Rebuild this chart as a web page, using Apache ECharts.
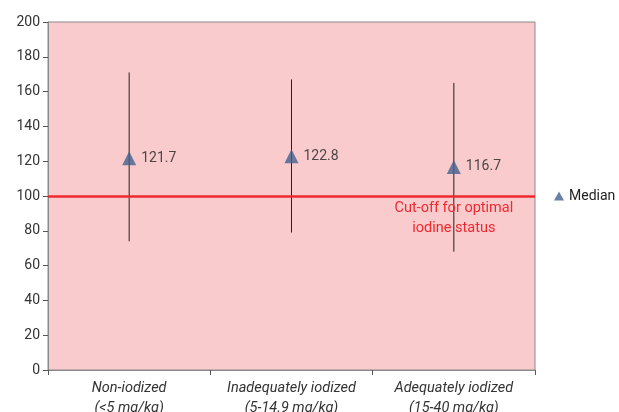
<!DOCTYPE html>
<html><head><meta charset="utf-8">
<script src="https://cdn.jsdelivr.net/npm/echarts@6/dist/echarts.min.js"></script>
<style>html,body{margin:0;padding:0;background:#fff}#c{width:619px;height:412px}</style>
</head><body><div id="c"></div>
<script>
const categories = ['Non-iodized\n(<5 mg/kg)', 'Inadequately iodized\n(5-14.9 mg/kg)', 'Adequately iodized\n(15-40 mg/kg)'];
const medians = [121.7, 122.8, 116.7];
const lows = [74, 79, 68];
const highs = [171, 167, 165];
const yTicks = {min: 0, max: 200, interval: 20};
const cutoff = 100;
const cutoffText = 'Cut-off for optimal\niodine status';

const chart = echarts.init(document.getElementById('c'));
const font = 'Roboto, "Noto Sans", sans-serif';
chart.setOption({
  animation: false,
  textStyle: {fontFamily: font},
  grid: {left: 48, right: 84, top: 22, bottom: 42, outerBoundsMode: 'none', containLabel: false, show: true, backgroundColor: '#f9cbcd', borderColor: '#8a8a8a', borderWidth: 1},
  legend: {
    data: [{name: 'Median', icon: 'triangle'}],
    left: 554, top: 189, itemWidth: 10, itemHeight: 9, itemGap: 3, padding: 0,
    textStyle: {fontSize: 14, color: '#222', fontFamily: font, width: 60, overflow: 'none'}
  },
  xAxis: {
    type: 'category', data: categories, boundaryGap: true,
    axisLine: {lineStyle: {color: '#8a8a8a', width: 1}},
    axisTick: {show: true, length: 5, lineStyle: {color: '#555'}},
    axisLabel: {interval: 0, hideOverlap: false, fontStyle: 'italic', fontSize: 14.5, color: '#333', lineHeight: 20, margin: 8, fontFamily: font}
  },
  yAxis: {
    type: 'value', min: yTicks.min, max: yTicks.max, interval: yTicks.interval,
    splitLine: {show: false},
    axisLine: {show: true, lineStyle: {color: '#8a8a8a'}},
    axisTick: {show: true, length: 5, lineStyle: {color: '#555'}},
    axisLabel: {fontSize: 14, color: '#333', margin: 8, fontFamily: font}
  },
  series: [
    {
      type: 'custom', name: 'range', silent: true,
      data: categories.map((c, i) => [i, lows[i], highs[i]]),
      renderItem: function (params, api) {
        const p1 = api.coord([api.value(0), api.value(1)]);
        const p2 = api.coord([api.value(0), api.value(2)]);
        return {type: 'line', shape: {x1: p1[0], y1: p1[1], x2: p2[0], y2: p2[1]}, style: {stroke: '#222', lineWidth: 1}};
      },
      z: 2
    },
    {
      type: 'line', name: 'cutoff', data: categories.map(() => null), silent: true,
      markLine: {
        silent: true, symbol: 'none',
        lineStyle: {color: '#ee2a30', width: 2.5, type: 'solid'},
        label: {show: false},
        data: [{yAxis: cutoff}]
      },
      markPoint: {
        symbol: 'circle', symbolSize: 0,
        label: {show: true, position: 'bottom', distance: 2, formatter: cutoffText, color: '#ee2a30', fontSize: 14.5, lineHeight: 20, fontFamily: font, align: 'center'},
        data: [{coord: [2, cutoff]}]
      },
      z: 3
    },
    {
      type: 'scatter', name: 'Median', symbol: 'triangle', symbolSize: [14, 14],
      itemStyle: {color: '#44608f'},
      data: medians.map((v, i) => [i, v]),
      label: {show: true, position: 'right', distance: 5, formatter: p => p.value[1].toFixed(1), color: '#222', fontSize: 14, fontFamily: font},
      z: 5
    }
  ]
});
</script></body></html>
